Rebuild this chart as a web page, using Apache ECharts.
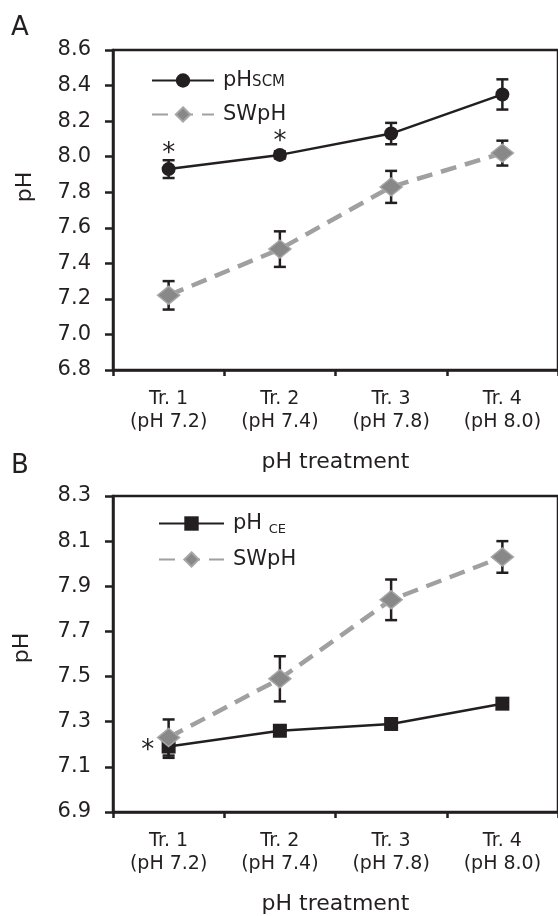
<!DOCTYPE html>
<html>
<head>
<meta charset="utf-8">
<script src="https://cdn.jsdelivr.net/npm/echarts@6/dist/echarts.min.js"></script>
<style>
html,body{margin:0;padding:0;background:#fff;}
#chart{width:558px;height:916px;}
</style>
</head>
<body>
<div id="chart"></div>
<script>
// ---------- data ----------
const categories = ['Tr. 1\n(pH 7.2)', 'Tr. 2\n(pH 7.4)', 'Tr. 3\n(pH 7.8)', 'Tr. 4\n(pH 8.0)'];

// Panel A
const pHSCM = [7.93, 8.01, 8.13, 8.35];
const pHSCMErr = [0.05, 0.02, 0.06, 0.085];
const swpHA = [7.22, 7.48, 7.83, 8.02];
const swpHAErr = [0.08, 0.10, 0.09, 0.07];
const starsA = [[0, 8.04], [1, 8.11]];
const yTicksA = [6.8, 7.0, 7.2, 7.4, 7.6, 7.8, 8.0, 8.2, 8.4, 8.6];

// Panel B
const pHCE = [7.19, 7.26, 7.29, 7.38];
const pHCEErr = [0.05, 0.02, 0.02, 0.02];
const swpHB = [7.23, 7.49, 7.84, 8.03];
const swpHBErr = [0.08, 0.10, 0.09, 0.07];
const starsB = [[0, 7.19]];
const yTicksB = [6.9, 7.1, 7.3, 7.5, 7.7, 7.9, 8.1, 8.3];

// ---------- styling ----------
const FONT = 'DejaVu Sans';
const INK = '#231f20';
const GREY_LINE = '#a0a0a0';
const GREY_MARK = '#888888';

function errData(vals, errs) {
  return vals.map((v, i) => [i, v - errs[i], v + errs[i]]);
}
function errRender(params, api) {
  const x = api.value(0);
  const lo = api.coord([x, api.value(1)]);
  const hi = api.coord([x, api.value(2)]);
  const w = 6;
  const st = { stroke: INK, lineWidth: 2.5 };
  return {
    type: 'group',
    children: [
      { type: 'line', shape: { x1: lo[0], y1: lo[1], x2: hi[0], y2: hi[1] }, style: st },
      { type: 'line', shape: { x1: lo[0] - w, y1: lo[1], x2: lo[0] + w, y2: lo[1] }, style: st },
      { type: 'line', shape: { x1: hi[0] - w, y1: hi[1], x2: hi[0] + w, y2: hi[1] }, style: st }
    ]
  };
}
function starRender(params, api) {
  const p = api.coord([api.value(0), api.value(1)]);
  const dx = params.seriesIndex === 9 ? -21 : 0;
  return {
    type: 'text',
    style: { x: p[0] + dx, y: p[1] + 5, text: '*', font: '26px "DejaVu Sans"', fill: INK,
      align: 'center', verticalAlign: 'middle' }
  };
}

function xAxisFor(gridIndex) {
  return {
    type: 'category', gridIndex: gridIndex, data: categories, boundaryGap: true,
    axisLine: { lineStyle: { color: INK, width: 2.5 } },
    axisTick: { show: true, length: 6, inside: false, lineStyle: { color: INK, width: 2.5 } },
    axisLabel: { color: INK, fontFamily: FONT, fontSize: 19, lineHeight: 23, margin: 18, interval: 0 },
    name: 'pH treatment', nameLocation: 'middle', nameGap: 81,
    nameTextStyle: { color: INK, fontFamily: FONT, fontSize: 22 }
  };
}
function yAxisFor(gridIndex, min, max, ticks) {
  return {
    type: 'value', gridIndex: gridIndex, min: min, max: max,
    axisLine: { show: true, lineStyle: { color: INK, width: 2.5 } },
    axisTick: { show: true, length: 8, customValues: ticks, lineStyle: { color: INK, width: 2.5 } },
    axisLabel: { color: INK, fontFamily: FONT, fontSize: 21, margin: 22, customValues: ticks,
      formatter: v => v.toFixed(1) },
    splitLine: { show: false }
  };
}

const legendRich = {
  a: { fontFamily: FONT, fontSize: 21, color: INK },
  b: { fontFamily: FONT, fontSize: 15, color: INK, padding: [3, 0, 0, 0] },
  c: { fontFamily: FONT, fontSize: 13, color: INK, padding: [12, 0, 0, 0] }
};
function legendFmt(name) {
  if (name === 'pHSCM') return '{a|pH}{b|SCM}';
  if (name === 'pHCE') return '{a|pH }{c|CE}';
  return '{a|' + name + '}';
}

const option = {
  animation: false,
  backgroundColor: '#fff',
  grid: [
    { left: 113, top: 50, width: 448, height: 320, show: true, borderColor: INK, borderWidth: 2.5 },
    { left: 113, top: 496, width: 448, height: 324, show: true, borderColor: INK, borderWidth: 2.5 }
  ],
  legend: [
    { data: ['pHSCM', 'SWpH'], orient: 'vertical', left: 146, top: 65, itemWidth: 62, itemHeight: 18,
      itemGap: 13, formatter: legendFmt, textStyle: { rich: legendRich, padding: [0, 0, 0, 4] }, selectedMode: false },
    { data: ['pHCE', 'SWpH'], orient: 'vertical', left: 153, top: 508, itemWidth: 65, itemHeight: 18,
      itemGap: 13, formatter: legendFmt, textStyle: { rich: legendRich, padding: [0, 0, 0, 4] }, selectedMode: false }
  ],
  xAxis: [xAxisFor(0), xAxisFor(1)],
  yAxis: [yAxisFor(0, 6.8, 8.6, yTicksA), yAxisFor(1, 6.9, 8.3, yTicksB)],
  graphic: [
    { type: 'text', left: 11, top: 15, style: { text: 'A', font: '26px "DejaVu Sans"', fill: INK } },
    { type: 'text', left: 11, top: 453, style: { text: 'B', font: '26px "DejaVu Sans"', fill: INK } },
    { type: 'text', x: 25, y: 187, rotation: Math.PI / 2,
      style: { text: 'pH', font: '22px "DejaVu Sans"', fill: INK, align: 'center', verticalAlign: 'middle' } },
    { type: 'text', x: 22, y: 648, rotation: Math.PI / 2,
      style: { text: 'pH', font: '22px "DejaVu Sans"', fill: INK, align: 'center', verticalAlign: 'middle' } }
  ],
  series: [
    // Panel A (0-4)
    { type: 'custom', xAxisIndex: 0, yAxisIndex: 0, renderItem: errRender, data: errData(pHSCM, pHSCMErr), z: 1, silent: true },
    { type: 'custom', xAxisIndex: 0, yAxisIndex: 0, renderItem: errRender, data: errData(swpHA, swpHAErr), z: 1, silent: true },
    { name: 'SWpH', type: 'line', xAxisIndex: 0, yAxisIndex: 0, data: swpHA, z: 3,
      symbol: 'diamond', symbolSize: [22, 18],
      lineStyle: { color: GREY_LINE, width: 4.5, type: [16, 9] },
      itemStyle: { color: GREY_MARK, borderColor: '#a6a6a6', borderWidth: 1.5 } },
    { name: 'pHSCM', type: 'line', xAxisIndex: 0, yAxisIndex: 0, data: pHSCM, z: 4,
      symbol: 'circle', symbolSize: 14,
      lineStyle: { color: INK, width: 2.5 },
      itemStyle: { color: INK, borderColor: INK, borderWidth: 0 } },
    { type: 'custom', xAxisIndex: 0, yAxisIndex: 0, renderItem: starRender, data: starsA, z: 5, silent: true },
    // Panel B (5-9)
    { type: 'custom', xAxisIndex: 1, yAxisIndex: 1, renderItem: errRender, data: errData(pHCE, pHCEErr), z: 1, silent: true },
    { type: 'custom', xAxisIndex: 1, yAxisIndex: 1, renderItem: errRender, data: errData(swpHB, swpHBErr), z: 1, silent: true },
    { name: 'pHCE', type: 'line', xAxisIndex: 1, yAxisIndex: 1, data: pHCE, z: 3,
      symbol: 'rect', symbolSize: 14,
      lineStyle: { color: INK, width: 2.5 },
      itemStyle: { color: INK, borderColor: INK, borderWidth: 0 } },
    { name: 'SWpH', type: 'line', xAxisIndex: 1, yAxisIndex: 1, data: swpHB, z: 4,
      symbol: 'diamond', symbolSize: [22, 18],
      lineStyle: { color: GREY_LINE, width: 4.5, type: [16, 9] },
      itemStyle: { color: GREY_MARK, borderColor: '#a6a6a6', borderWidth: 1.5 } },
    { type: 'custom', xAxisIndex: 1, yAxisIndex: 1, renderItem: starRender, data: starsB, z: 5, silent: true }
  ]
};

const chart = echarts.init(document.getElementById('chart'), null, { renderer: 'canvas' });
chart.setOption(option);
</script>
</body>
</html>
